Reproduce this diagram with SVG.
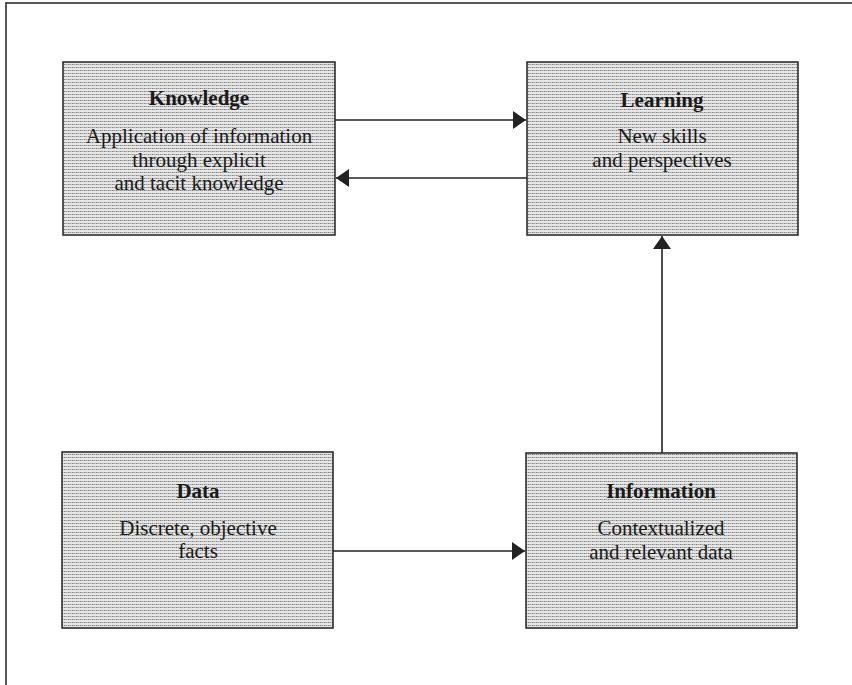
<svg xmlns="http://www.w3.org/2000/svg" width="852" height="685" viewBox="0 0 852 685">
<style>
.box{fill:url(#dots);stroke:#222;stroke-width:1.5}
.t{font-family:"Liberation Serif","Times New Roman",serif;font-size:21px;fill:#1a1a1a;text-anchor:middle}
.b{font-weight:bold}
.c{stroke:#222;stroke-width:1.6;fill:none}
</style>
<defs>
<pattern id="dots" width="4" height="3" patternUnits="userSpaceOnUse">
<rect width="4" height="3" fill="#e6e6e6"/>
<rect x="0" y="1" width="1.5" height="1" fill="#7e7e7e"/>
<rect x="2" y="1" width="1.5" height="1" fill="#a0a0a0"/>
</pattern>
<marker id="ah" markerWidth="14" markerHeight="18" refX="13" refY="9" orient="auto" markerUnits="userSpaceOnUse">
<path d="M0,0 L13,9 L0,18 Z" fill="#222"/>
</marker>
</defs>
<rect width="852" height="685" fill="#fff"/>
<rect x="6" y="3" width="860" height="700" fill="none" stroke="#444" stroke-width="1.8"/>
<g id="knowledge">
<rect class="box" x="63" y="62" width="272" height="173"/>
<text class="t b" x="199" y="105">Knowledge</text>
<text class="t" x="199" y="143">Application of information</text>
<text class="t" x="199" y="167">through explicit</text>
<text class="t" x="199" y="190">and tacit knowledge</text>
</g>
<g id="learning">
<rect class="box" x="527" y="62" width="271" height="173"/>
<text class="t b" x="662" y="107">Learning</text>
<text class="t" x="662" y="143">New skills</text>
<text class="t" x="662" y="167">and perspectives</text>
</g>
<g id="data">
<rect class="box" x="62" y="452" width="271" height="176"/>
<text class="t b" x="198" y="498">Data</text>
<text class="t" x="198" y="535">Discrete, objective</text>
<text class="t" x="198" y="558">facts</text>
</g>
<g id="information">
<rect class="box" x="526" y="453" width="271" height="175"/>
<text class="t b" x="661" y="498">Information</text>
<text class="t" x="661" y="535">Contextualized</text>
<text class="t" x="661" y="559">and relevant data</text>
</g>
<g id="connectors">
<line class="c" x1="335" y1="120" x2="526" y2="120" marker-end="url(#ah)"/>
<line class="c" x1="527" y1="178" x2="336" y2="178" marker-end="url(#ah)"/>
<line class="c" x1="333" y1="551" x2="525" y2="551" marker-end="url(#ah)"/>
<line class="c" x1="662" y1="453" x2="662" y2="236" marker-end="url(#ah)"/>
</g>
</svg>
